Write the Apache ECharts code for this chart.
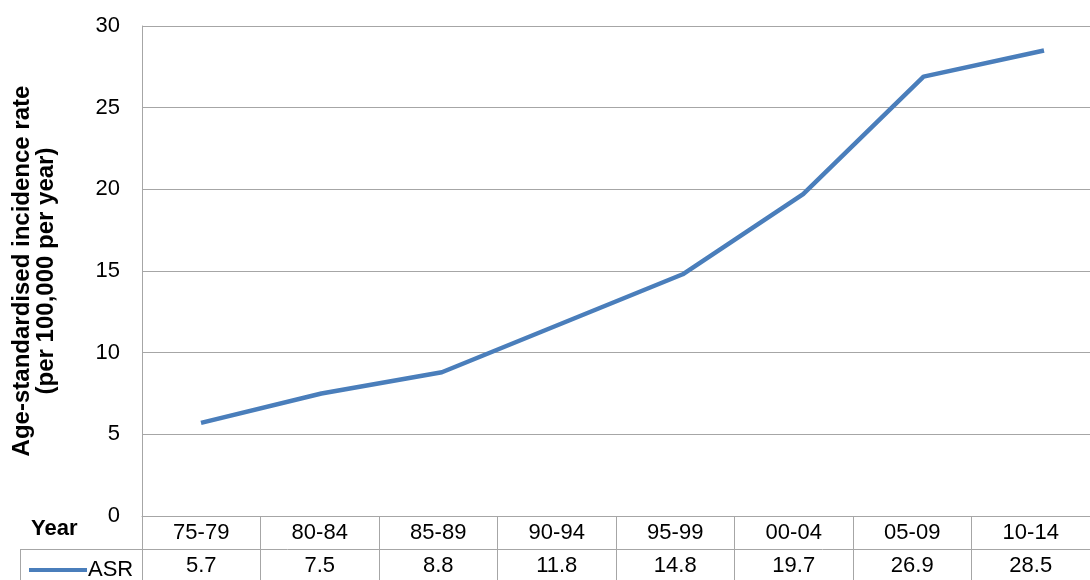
<!DOCTYPE html>
<html>
<head>
<meta charset="utf-8">
<script src="https://cdn.jsdelivr.net/npm/echarts@6/dist/echarts.min.js"></script>
<style>
  html, body { margin: 0; padding: 0; background: #fff; }
  #chart { width: 1090px; height: 580px; }
</style>
</head>
<body>
<div id="chart"></div>
<script>
var periods = ['75-79', '80-84', '85-89', '90-94', '95-99', '00-04', '05-09', '10-14'];
var asr = [5.7, 7.5, 8.8, 11.8, 14.8, 19.7, 26.9, 28.5];
var yTicks = { min: 0, max: 30, interval: 5 };

var gridColor = '#a6a6a6';
var lineColor = '#4a7ebb';
var font = '"Liberation Sans", Arial, sans-serif';

var chart = echarts.init(document.getElementById('chart'));

var option = {
    animation: false,
    textStyle: { fontFamily: font },
    // grid 0: axes + data table, grid 1: the plotted line (Excel offsets it a bit)
    grid: [
        { left: 142, right: 0, top: 26, bottom: 64 },
        { left: 201, right: 46, top: 26, bottom: 64 }
    ],
    legend: {
        left: 24,
        top: 554,
        itemWidth: 58,
        itemHeight: 10,
        itemGap: 0,
        textStyle: { fontSize: 22, color: '#000', fontFamily: font, padding: [0, 0, 0, -4] },
        data: [{ name: 'ASR', icon: 'path://M0,3 L58,3 L58,7 L0,7 Z' }]
    },
    xAxis: [{
        type: 'category',
        gridIndex: 0,
        data: periods,
        boundaryGap: true,
        axisLine: { show: true, lineStyle: { color: gridColor, width: 1 } },
        axisTick: { show: true, interval: 0, length: 64, lineStyle: { color: gridColor } },
        axisLabel: {
            interval: 0,
            margin: 0,
            verticalAlign: 'top',
            formatter: function (value, idx) {
                return '{a|' + value + '}\n{a|' + asr[idx] + '}';
            },
            rich: {
                a: { fontSize: 22, lineHeight: 33, color: '#000', fontFamily: font }
            }
        },
        splitLine: { show: false }
    }, {
        type: 'category',
        gridIndex: 1,
        data: periods,
        boundaryGap: false,
        show: false
    }],
    yAxis: [{
        type: 'value',
        gridIndex: 0,
        min: yTicks.min,
        max: yTicks.max,
        interval: yTicks.interval,
        name: 'Age-standardised incidence rate\n(per 100,000 per year)',
        nameLocation: 'middle',
        nameGap: 84,
        nameTextStyle: { fontSize: 24, fontWeight: 'bold', color: '#000', lineHeight: 24, fontFamily: font },
        axisLine: { show: true, lineStyle: { color: gridColor, width: 1 } },
        axisTick: { show: false },
        axisLabel: { fontSize: 22, color: '#000', margin: 22, fontFamily: font },
        splitLine: { show: true, lineStyle: { color: gridColor, width: 1 } }
    }, {
        type: 'value',
        gridIndex: 1,
        min: yTicks.min,
        max: yTicks.max,
        interval: yTicks.interval,
        show: false,
        splitLine: { show: false }
    }],
    graphic: [
        { type: 'text', left: 31, top: 518, style: { text: 'Year', fontSize: 22, fontWeight: 'bold', fill: '#000', fontFamily: font } },
        { type: 'line', shape: { x1: 20, y1: 549.5, x2: 1090, y2: 549.5 }, style: { stroke: gridColor, lineWidth: 1 } },
        { type: 'line', shape: { x1: 20.5, y1: 549, x2: 20.5, y2: 580 }, style: { stroke: gridColor, lineWidth: 1 } }
    ],
    series: [{
        name: 'ASR',
        type: 'line',
        xAxisIndex: 1,
        yAxisIndex: 1,
        data: asr,
        showSymbol: false,
        symbol: 'none',
        lineStyle: { color: lineColor, width: 4.5 },
        itemStyle: { color: lineColor }
    }]
};

chart.setOption(option);
</script>
</body>
</html>
